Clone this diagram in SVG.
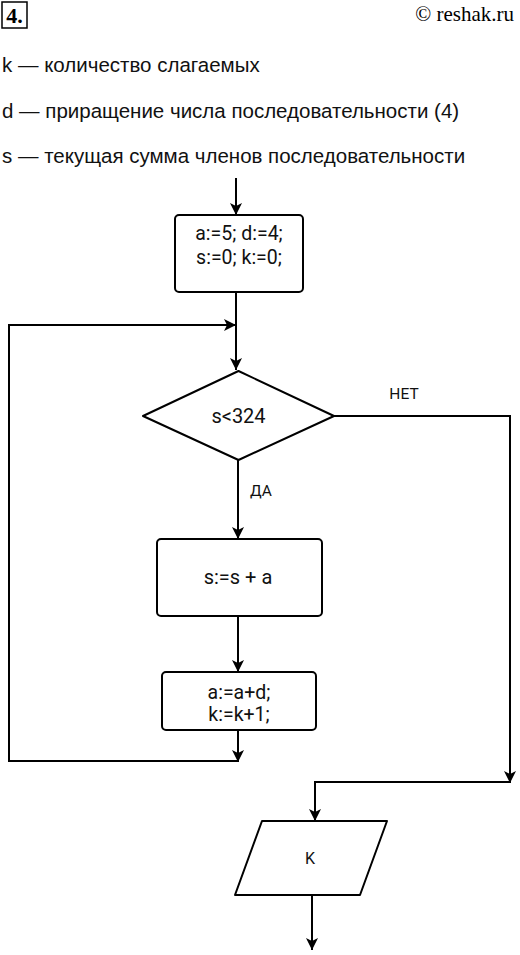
<svg xmlns="http://www.w3.org/2000/svg" width="520" height="955" viewBox="0 0 520 955">
<defs>
<marker id="arr" viewBox="0 0 12 12" refX="12" refY="6" markerWidth="12" markerHeight="12" markerUnits="userSpaceOnUse" orient="auto">
<path d="M0,0 L12,6 L0,12 L3,6 Z" fill="#000"/>
</marker>
</defs>
<style>
.desc{font-family:"Liberation Sans",Arial,sans-serif;font-size:20.5px;fill:#111}
.lbl{font-family:Roboto,"Liberation Sans",sans-serif;fill:#111;text-anchor:middle}
.shape{fill:#fff;stroke:#000;stroke-width:2}
.ln{fill:none;stroke:#000;stroke-width:2}
</style>
<rect width="520" height="955" fill="#fff"/>
<g id="header">
<rect x="2" y="2" width="25" height="26" fill="none" stroke="#000" stroke-width="1.5"/>
<text x="14.5" y="23" font-family="Liberation Serif,serif" font-weight="bold" font-size="22" text-anchor="middle">4.</text>
<text x="514" y="21" font-family="Liberation Serif,serif" font-size="21" text-anchor="end">© reshak.ru</text>
</g>
<g id="legend">
<text class="desc" x="2" y="72">k — количество слагаемых</text>
<text class="desc" x="2" y="118">d — приращение числа последовательности (4)</text>
<text class="desc" x="2" y="163">s — текущая сумма членов последовательности</text>
</g>
<g id="connectors">
<line class="ln" x1="236" y1="178" x2="236" y2="215" marker-end="url(#arr)"/>
<line class="ln" x1="236" y1="292" x2="236" y2="370" marker-end="url(#arr)"/>
<line class="ln" x1="238" y1="730" x2="238" y2="762" marker-end="url(#arr)"/>
<polyline class="ln" points="238,761 9,761 9,325 236,325" marker-end="url(#arr)"/>
<line class="ln" x1="238" y1="460" x2="238" y2="539" marker-end="url(#arr)"/>
<line class="ln" x1="238" y1="616" x2="238" y2="672" marker-end="url(#arr)"/>
<polyline class="ln" points="334,416 510,416 510,783" marker-end="url(#arr)"/>
<polyline class="ln" points="510,782 315,782 315,821" marker-end="url(#arr)"/>
<line class="ln" x1="312" y1="895" x2="312" y2="950" marker-end="url(#arr)"/>
<text class="lbl" x="404" y="399" font-size="15.5">НЕТ</text>
<text class="lbl" x="261" y="496" font-size="15.5">ДА</text>
</g>
<g id="init">
<rect class="shape" x="175" y="215" width="128" height="77" rx="4"/>
<text class="lbl" x="239" y="240" font-size="19.5">a:=5; d:=4;</text>
<text class="lbl" x="239" y="264" font-size="19.5">s:=0; k:=0;</text>
</g>
<g id="cond">
<polygon class="shape" points="238.5,371 334,416 238.5,460 143,416" stroke-linejoin="round"/>
<text class="lbl" x="238.5" y="423" font-size="20">s&lt;324</text>
</g>
<g id="sum">
<rect class="shape" x="157" y="539" width="165" height="77" rx="4"/>
<text class="lbl" x="238" y="584" font-size="20">s:=s + a</text>
</g>
<g id="step">
<rect class="shape" x="162" y="672" width="154" height="58" rx="4"/>
<text class="lbl" x="239" y="699" font-size="19.5">a:=a+d;</text>
<text class="lbl" x="239" y="721" font-size="19.5">k:=k+1;</text>
</g>
<g id="output">
<polygon class="shape" points="262,821 387,821 360,895 235,895" stroke-linejoin="round"/>
<text class="lbl" x="310" y="864" font-size="16">K</text>
</g>
</svg>
